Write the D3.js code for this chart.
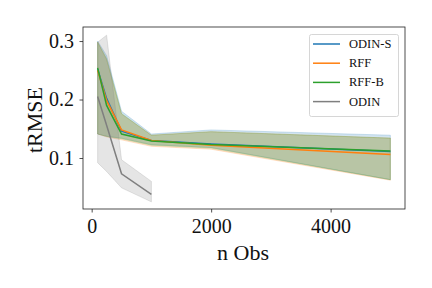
<!DOCTYPE html>
<html>
<head>
<meta charset="utf-8">
<script src="https://cdn.jsdelivr.net/npm/d3@7"></script>
<style>
  body { margin: 0; background: #fff; }
  text { font-family: "Liberation Serif", "DejaVu Serif", serif; fill: #111; }
</style>
</head>
<body>
<svg width="432" height="288"></svg>
<script>
const nObs = [100, 250, 500, 1000, 2000, 5000];
const odinObs = [100, 250, 500, 1000];

// mean and band (lo, hi) per series
const odinS    = [0.252, 0.202, 0.146, 0.130, 0.124, 0.111];
const odinSLo  = [0.141, 0.137, 0.134, 0.123, 0.118, 0.063];
const odinSHi  = [0.300, 0.275, 0.180, 0.141, 0.148, 0.139];
const rff      = [0.250, 0.198, 0.148, 0.130, 0.122, 0.106];
const rffLo    = [0.141, 0.136, 0.131, 0.120, 0.115, 0.062];
const rffHi    = [0.298, 0.268, 0.175, 0.139, 0.145, 0.134];
const rffB     = [0.254, 0.190, 0.141, 0.129, 0.123, 0.112];
const rffBLo   = [0.141, 0.137, 0.133, 0.122, 0.117, 0.063];
const rffBHi   = [0.298, 0.270, 0.176, 0.139, 0.145, 0.134];
const odin     = [0.205, 0.156, 0.073, 0.038];
const odinLo   = [0.092, 0.077, 0.049, 0.025];
const odinHi   = [0.298, 0.310, 0.097, 0.060];

const xTicks = [0, 2000, 4000];
const yTicks = [0.1, 0.2, 0.3];

const series = [
  {name: "ODIN-S", color: "#1f77b4", x: nObs, m: odinS, lo: odinSLo, hi: odinSHi},
  {name: "RFF",    color: "#ff7f0e", x: nObs, m: rff,   lo: rffLo,   hi: rffHi},
  {name: "RFF-B",  color: "#2ca02c", x: nObs, m: rffB,  lo: rffBLo,  hi: rffBHi},
  {name: "ODIN",   color: "#7f7f7f", x: odinObs, m: odin, lo: odinLo, hi: odinHi}
];

const mLeft = 83, mRight = 405, mTop = 27, mBottom = 209;

const x = d3.scaleLinear().domain([-145, 5245]).range([mLeft, mRight]);
const y = d3.scaleLinear().domain([0.0128, 0.324]).range([mBottom, mTop]);

const svg = d3.select("svg");

const area = d3.area()
  .x(d => x(d[0])).y0(d => y(d[1])).y1(d => y(d[2]));
const line = d3.line().x(d => x(d[0])).y(d => y(d[1]));

series.forEach(s => {
  const pts = s.x.map((v, i) => [v, s.lo[i], s.hi[i]]);
  svg.append("path")
    .attr("d", area(pts))
    .attr("fill", s.color)
    .attr("fill-opacity", 0.2)
    .attr("stroke", s.color)
    .attr("stroke-opacity", 0.2)
    .attr("stroke-width", 1);
});

series.forEach(s => {
  svg.append("path")
    .attr("d", line(s.x.map((v, i) => [v, s.m[i]])))
    .attr("fill", "none")
    .attr("stroke", s.color)
    .attr("stroke-width", 1.5);
});

// frame
svg.append("rect")
  .attr("x", mLeft).attr("y", mTop)
  .attr("width", mRight - mLeft).attr("height", mBottom - mTop)
  .attr("fill", "none").attr("stroke", "#222").attr("stroke-width", 0.8);

const xAxis = svg.append("g")
  .attr("transform", `translate(0,${mBottom})`)
  .call(d3.axisBottom(x).tickValues(xTicks).tickSize(3.5).tickPadding(6).tickFormat(d3.format("d")));
const yAxis = svg.append("g")
  .attr("transform", `translate(${mLeft},0)`)
  .call(d3.axisLeft(y).tickValues(yTicks).tickSize(3.5).tickPadding(5.5).tickFormat(d3.format(".1f")));

[xAxis, yAxis].forEach(a => {
  a.select(".domain").remove();
  a.selectAll("line").attr("stroke", "#222").attr("stroke-width", 0.8);
  a.selectAll("text").style("font-size", "20px").attr("fill", "#111")
    .style("font-family", "'Liberation Serif', serif");
});

svg.append("text")
  .attr("x", 243).attr("y", 260)
  .attr("text-anchor", "middle")
  .style("font-size", "22px")
  .text("n Obs");

svg.append("text")
  .attr("transform", `translate(42,120) rotate(-90)`)
  .attr("text-anchor", "middle")
  .style("font-size", "22px")
  .text("tRMSE");

// legend
const lg = svg.append("g");
lg.append("rect")
  .attr("x", 309.5).attr("y", 34.5).attr("width", 89).attr("height", 82)
  .attr("rx", 2).attr("fill", "#fff").attr("fill-opacity", 0.8)
  .attr("stroke", "#ccc").attr("stroke-width", 0.8);
series.forEach((s, i) => {
  const yy = 44 + i * 19.2;
  lg.append("line")
    .attr("x1", 313).attr("x2", 340).attr("y1", yy).attr("y2", yy)
    .attr("stroke", s.color).attr("stroke-width", 1.5);
  lg.append("text")
    .attr("x", 349).attr("y", yy + 4)
    .style("font-size", "12.5px")
    .text(s.name);
});
</script>
</body>
</html>
